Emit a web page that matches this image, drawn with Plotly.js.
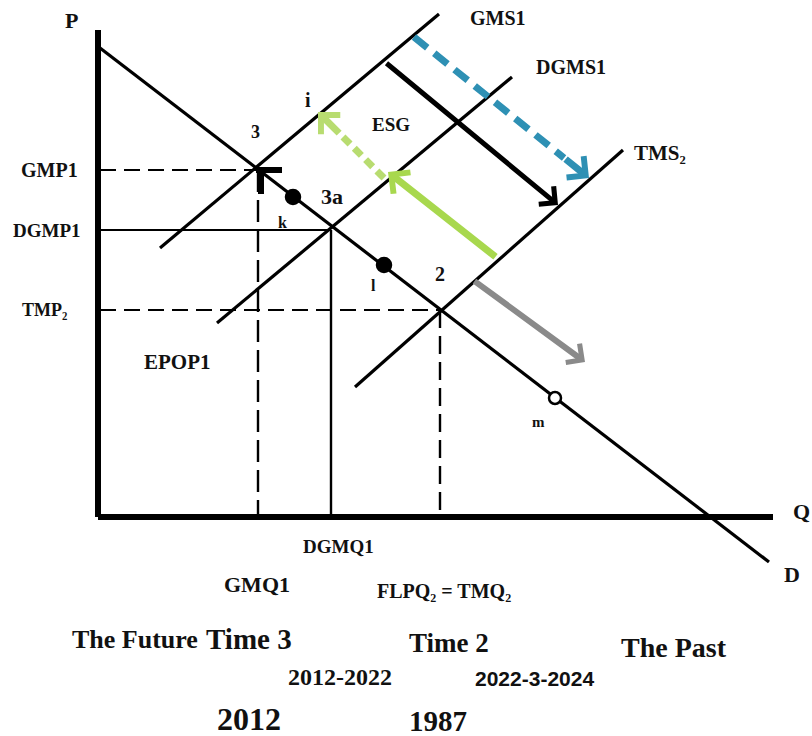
<!DOCTYPE html>
<html><head><meta charset="utf-8">
<script src="https://cdn.plot.ly/plotly-3.0.1.min.js"></script>
<style>html,body{margin:0;padding:0;background:#fff}#chart{width:812px;height:736px}</style>
</head><body><div id="chart"></div>
<script>
// ---- Diagram data (in its pixel coordinate frame) ----
// Axes
const axisNames = ['P axis', 'Q axis'];
const axisX = [[98, 98], [98, 773]];
const axisY = [[30, 517], [517, 517]];

// Demand and supply curves
const curveNames = ['D', 'GMS1', 'DGMS1', 'TMS2'];
const curveX = [[100, 769], [160, 439], [217, 512], [355, 623]];
const curveY = [[48, 562], [248, 14], [323, 77], [387, 150]];

// Equilibrium prices / quantities (guides)
const priceLevels = [170, 230, 310];           // GMP1, DGMP1, TMP2
const qtyLevels = [258, 331, 440];             // GMQ1, DGMQ1, TMQ2
const guideDash = ['16px,8px', 'solid', '16px,8px'];
const vertDash = ['22px,8px', 'solid', '18px,8px'];

// Points on demand curve
const pointNames = ['k', 'l', 'm'];
const pointX = [293, 384, 555];
const pointY = [197, 265, 398];
const pointFilled = [true, true, false];

// Shift arrows: tail and head
const arrowNames = ['black', 'blue', 'greenSolid', 'greenDotted', 'gray'];
const arrowTailX = [385, 414, 497, 384, 473];
const arrowTailY = [62, 37, 258, 178, 280];
const arrowHeadX = [558, 589, 388, 318, 585];
const arrowHeadY = [205, 178, 172, 112, 362];

// Text labels
const labelText = ['P', 'Q', 'D', 'GMS1', 'DGMS1', 'TMS₂', 'ESG', 'i', '3', '3a', '2', 'k', 'l', 'm',
  'GMP1', 'DGMP1', 'TMP₂', 'EPOP1', 'DGMQ1', 'GMQ1', 'FLPQ₂ = TMQ₂',
  'The Future', 'Time 3', 'Time 2', 'The Past', '2012-2022', '2022-3-2024', '2012', '1987'];
const labelX = [71, 801, 792, 498, 571, 660, 391, 308, 255, 332, 440, 282, 373, 538,
  49, 47, 44, 177, 338, 257, 444,
  135, 249, 449, 674, 340, 534, 249, 438];
const labelY = [20, 511, 574, 18, 67, 153, 124, 100, 132, 196, 274, 222, 285, 422,
  170, 230, 310, 362, 546, 584, 591,
  639, 639, 643, 647, 677, 678, 719, 721];
const labelSize = [22, 22, 22, 20, 20, 21, 19, 20, 18, 22, 20, 16, 16, 15,
  20, 19, 18, 21, 19, 22, 20,
  26, 29, 27, 28, 24, 21, 32, 29];
const labelSans = [false, false, false, false, false, false, false, false, false, false, false, false, false, false,
  false, false, false, false, false, false, false,
  false, false, false, false, false, true, false, false];

// ---- Build traces ----
const traces = [];
const annotations = [];
const SERIF = 'Liberation Serif, Times New Roman, serif';
const SANS = 'Liberation Sans, Arial, sans-serif';

axisNames.forEach((n, i) => traces.push({x: axisX[i], y: axisY[i], mode: 'lines', name: n,
  line: {color: '#000', width: 6}, hoverinfo: 'skip'}));
curveNames.forEach((n, i) => traces.push({x: curveX[i], y: curveY[i], mode: 'lines', name: n,
  line: {color: '#000', width: 3.2}, hoverinfo: 'skip'}));

// horizontal guides from P axis to curve intersection
priceLevels.forEach((p, i) => traces.push({x: [100, qtyLevels[i]], y: [p, p], mode: 'lines',
  line: {color: '#000', width: 2, dash: guideDash[i]}, hoverinfo: 'skip'}));
// vertical guides down to Q axis
qtyLevels.forEach((q, i) => traces.push({x: [q, q], y: [priceLevels[i], 515], mode: 'lines',
  line: {color: '#000', width: 2.4, dash: vertDash[i]}, hoverinfo: 'skip'}));

// arrowhead mark at point 3
traces.push({x: [qtyLevels[0] - 2, qtyLevels[0] + 24], y: [priceLevels[0], priceLevels[0]], mode: 'lines',
  line: {color: '#000', width: 6}, hoverinfo: 'skip'});
traces.push({x: [qtyLevels[0] + 3, qtyLevels[0] + 3], y: [priceLevels[0], priceLevels[0] + 24], mode: 'lines',
  line: {color: '#000', width: 6}, hoverinfo: 'skip'});

// points
traces.push({x: pointX, y: pointY, mode: 'markers', name: 'points', opacity: 1,
  marker: {size: pointX.map((_, i) => pointFilled[i] ? 14 : 12), opacity: 1,
    color: pointFilled.map(f => f ? '#000000' : '#ffffff'),
    line: {color: '#000000', width: 2.5}}, hoverinfo: 'skip'});

// arrows
const arrowColor = ['#000000', '#2e90b4', '#a8d84e', '#b8dc70', '#8a8a8a'];
const arrowWidth = [5, 7, 7, 7, 6];
const arrowDash = [null, '17px,9px', null, '10px,6px', null];
arrowNames.forEach((n, i) => {
  const tx = arrowTailX[i], ty = arrowTailY[i], hx = arrowHeadX[i], hy = arrowHeadY[i];
  let bx = tx, by = ty;
  if (arrowDash[i]) {
    const dx = hx - tx, dy = hy - ty, L = Math.hypot(dx, dy);
    bx = hx - dx / L * 32; by = hy - dy / L * 32;
    traces.push({x: [tx, bx], y: [ty, by], mode: 'lines', name: n,
      line: {color: arrowColor[i], width: arrowWidth[i], dash: arrowDash[i]}, hoverinfo: 'skip'});
  }
  annotations.push({x: hx, y: hy, ax: bx, ay: by, axref: 'x', ayref: 'y', xref: 'x', yref: 'y',
    text: '', showarrow: true, arrowhead: 4, arrowsize: i === 0 ? 0.9 : 0.75,
    arrowwidth: arrowWidth[i], arrowcolor: arrowColor[i]});
});

labelText.forEach((t, i) => annotations.push({x: labelX[i], y: labelY[i], xref: 'x', yref: 'y',
  text: '<b>' + t + '</b>', showarrow: false, xanchor: 'center', yanchor: 'middle',
  font: {family: labelSans[i] ? SANS : SERIF, size: labelSize[i], color: '#111'}}));

const layout = {
  width: 812, height: 736, margin: {l: 0, r: 0, t: 0, b: 0},
  paper_bgcolor: '#fff', plot_bgcolor: '#fff', showlegend: false,
  xaxis: {range: [0, 812], visible: false, fixedrange: true},
  yaxis: {range: [736, 0], visible: false, fixedrange: true},
  annotations: annotations
};
Plotly.newPlot('chart', traces, layout, {staticPlot: true, displayModeBar: false});
</script></body></html>
